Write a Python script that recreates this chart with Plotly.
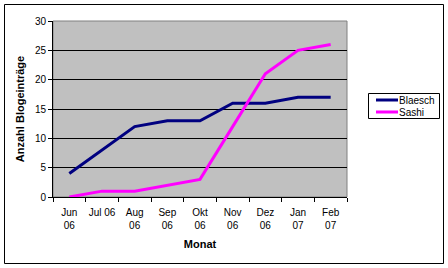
import plotly.graph_objects as go

months = ["Jun<br>06", "Jul 06", "Aug<br>06", "Sep<br>06", "Okt<br>06", "Nov<br>06", "Dez<br>06", "Jan<br>07", "Feb<br>07"]
blaesch = [4, 8, 12, 13, 13, 16, 16, 17, 17]
sashi = [0, 1, 1, 2, 3, 12, 21, 25, 26]
y_ticks = [0, 5, 10, 15, 20, 25, 30]
series_names = ["Blaesch", "Sashi"]
series_colors = ["#000080", "#FF00FF"]

FONT = "Liberation Sans, Arial, sans-serif"

fig = go.Figure()
for name, vals, col in zip(series_names, [blaesch, sashi], series_colors):
    fig.add_trace(go.Scatter(x=months, y=vals, mode="lines", name=name,
                             line=dict(color=col, width=3), showlegend=False))

L, R, T, B = 53, 101, 21, 71
W, H = 448, 268
pw, ph = W - L - R, H - T - B

def px(x):
    return (x - L) / pw

def py(y):
    return (H - B - y) / ph

shapes = [
    dict(type="rect", xref="paper", yref="paper", x0=0, x1=1, y0=0, y1=1,
         line=dict(color="#808080", width=1), layer="below"),
    dict(type="rect", xref="paper", yref="paper", x0=px(4.5), x1=px(443.5),
         y0=py(263.5), y1=py(4.5), line=dict(color="black", width=1)),
    # legend box
    dict(type="rect", xref="paper", yref="paper", x0=px(368.5), x1=px(439.5),
         y0=py(118.5), y1=py(93.5), line=dict(color="black", width=1),
         fillcolor="white"),
]
annotations = []
for i, (name, col) in enumerate(zip(series_names, series_colors)):
    yy = 100 + i * 12
    shapes.append(dict(type="line", xref="paper", yref="paper",
                       x0=px(376), x1=px(398), y0=py(yy), y1=py(yy),
                       line=dict(color=col, width=3)))
    annotations.append(dict(xref="paper", yref="paper", x=px(397), y=py(yy),
                            xanchor="left", yanchor="middle", showarrow=False,
                            text=name, font=dict(size=10)))

fig.update_layout(
    width=W, height=H,
    margin=dict(l=L, r=R, t=T, b=B, pad=0),
    paper_bgcolor="white",
    plot_bgcolor="#C0C0C0",
    font=dict(family=FONT, size=10, color="black"),
    xaxis=dict(
        type="category", tickson="boundaries", ticks="outside", ticklen=4,
        tickangle=0, tickfont=dict(size=10), ticklabelstandoff=6,
        tickcolor="black", showline=True, linecolor="black", linewidth=1,
        showgrid=False, range=[-0.5, 8.5], automargin=False,
        title=dict(text="<b>Monat</b>", font=dict(size=11), standoff=10),
    ),
    yaxis=dict(
        range=[0, 30], tickvals=y_ticks, ticks="outside", ticklen=4,
        tickfont=dict(size=10), automargin=False,
        tickcolor="black", showline=True, linecolor="black", linewidth=1,
        showgrid=True, gridcolor="black", gridwidth=1, zeroline=False,
        title=dict(text="<b>Anzahl Blogeinträge</b>", font=dict(size=11), standoff=8),
    ),
    shapes=shapes,
    annotations=annotations,
)

fig.write_html("out.html")
